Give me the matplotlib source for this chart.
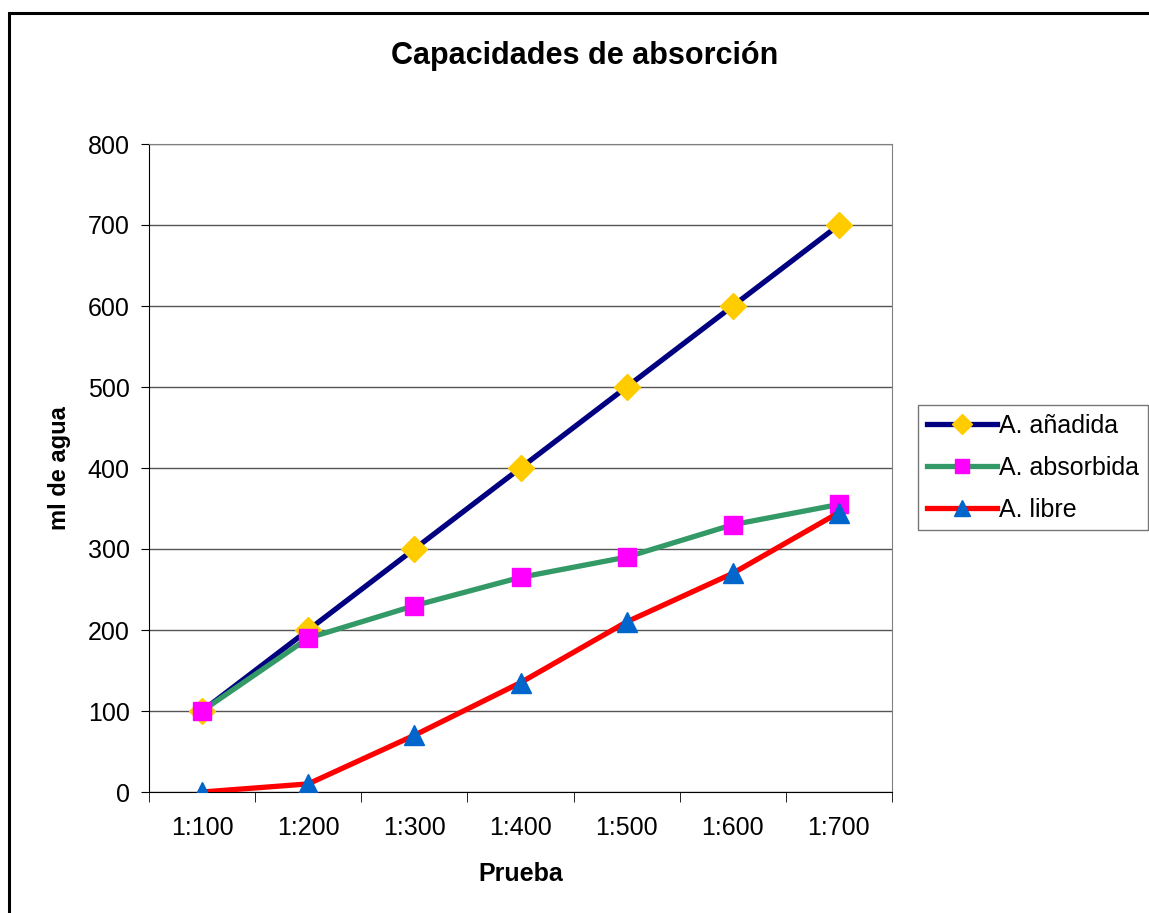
import matplotlib
matplotlib.use("Agg")
import matplotlib.pyplot as plt
from matplotlib.patches import Rectangle
import numpy as np

plt.rcParams['font.family'] = ['Liberation Sans', 'DejaVu Sans']

categories = ["1:100", "1:200", "1:300", "1:400", "1:500", "1:600", "1:700"]
anadida = [100, 200, 300, 400, 500, 600, 700]
absorbida = [100, 190, 230, 265, 290, 330, 355]
libre = [0, 10, 70, 135, 210, 270, 345]
yticks = [0, 100, 200, 300, 400, 500, 600, 700, 800]

fig = plt.figure(figsize=(11.49, 9.13), dpi=100)
ax = fig.add_axes([149/1149, 1-792/913, (892-149)/1149, (792-144)/913])

x = np.arange(len(categories))
ax.plot(x, anadida, color='#000080', lw=3.8, marker='D', ms=13, mfc='#FFCC00', mec='#FFCC00', label='A. añadida', zorder=3)
ax.plot(x, absorbida, color='#339966', lw=3.8, marker='s', ms=13, mfc='#FF00FF', mec='#FF00FF', label='A. absorbida', zorder=4)
ax.plot(x, libre, color='#FF0000', lw=3.8, marker='^', ms=15, mfc='#0066CC', mec='#0066CC', label='A. libre', zorder=5)

ax.set_xlim(-0.5, len(categories) - 0.5)
ax.set_ylim(0, 800)
ax.set_yticks(yticks)
ax.set_yticklabels([str(v) for v in yticks], fontsize=18)
ax.yaxis.grid(True, color='#555555', lw=1)
ax.set_axisbelow(True)
ax.set_xticks(x)
ax.set_xticklabels(categories, fontsize=18)
ax.tick_params(axis='x', length=0, pad=17)
ax.set_xticks(np.arange(-0.5, len(categories)), minor=True)
ax.tick_params(axis='x', which='minor', length=7, direction='out', color='black')
ax.tick_params(axis='y', length=6, direction='out', pad=8)
for s in ['top', 'right']:
    ax.spines[s].set_color('#808080')
for s in ['left', 'bottom']:
    ax.spines[s].set_color('black')

ax.set_xlabel('Prueba', fontsize=18, fontweight='bold', labelpad=16)
ax.set_ylabel('ml de agua', fontsize=17, fontweight='bold', labelpad=12)
fig.text(585/1149, 1-56/913, 'Capacidades de absorción', fontsize=22, fontweight='bold', ha='center', va='center')

leg = fig.legend(loc='upper left', bbox_to_anchor=(918/1149, 1-405/913), fontsize=18,
                 frameon=True, fancybox=False, edgecolor='#555555', handlelength=2.8,
                 handletextpad=0.1, borderpad=0.35, labelspacing=0.72, borderaxespad=0,
                 markerscale=0.75)
leg.get_frame().set_linewidth(1.0)

fig.patches.append(Rectangle((9/1149, -0.05), 1.2, 1-13/913 + 0.05, transform=fig.transFigure,
                             fill=False, edgecolor='black', lw=2.2, zorder=0))

fig.savefig('out.png', dpi=100)
